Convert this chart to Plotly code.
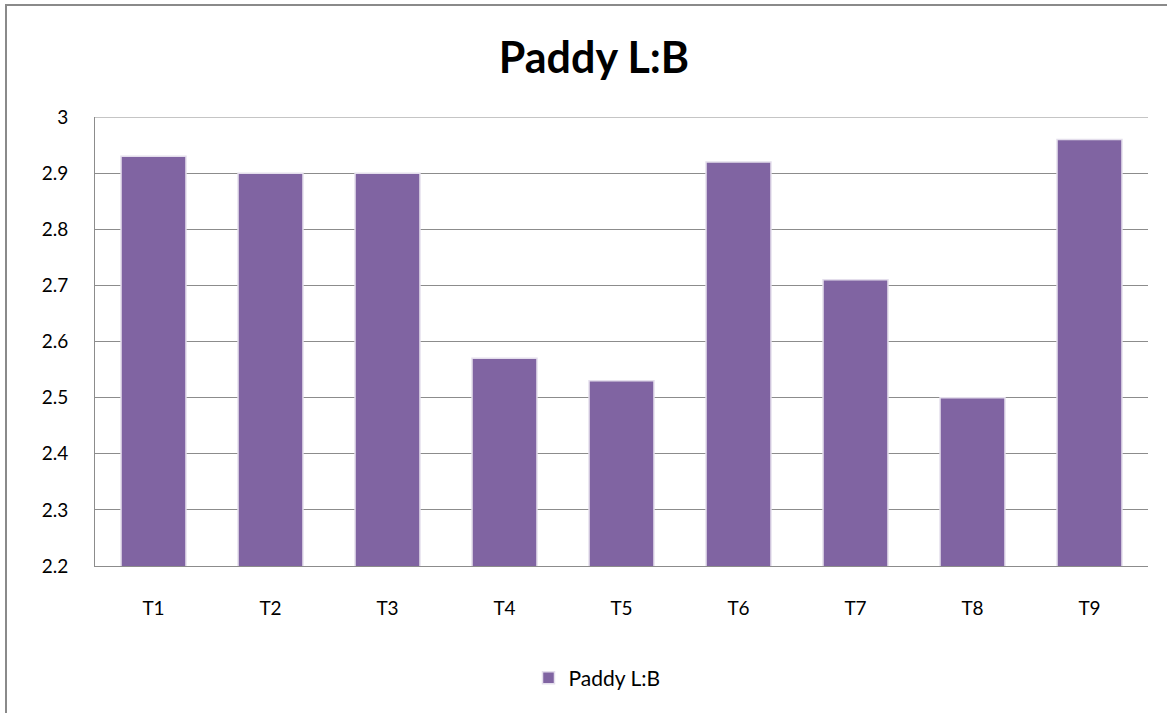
import plotly.graph_objects as go

categories = ["T1", "T2", "T3", "T4", "T5", "T6", "T7", "T8", "T9"]
values = [2.93, 2.90, 2.90, 2.57, 2.53, 2.92, 2.71, 2.50, 2.96]
y_ticks = [2.2, 2.3, 2.4, 2.5, 2.6, 2.7, 2.8, 2.9, 3.0]
y_tick_text = ["2.2", "2.3", "2.4", "2.5", "2.6", "2.7", "2.8", "2.9", "3"]
series_name = "Paddy L:B"

W, H = 1167, 713
L, R, T, B = 95, 1148, 117, 566

def px_x(sx):
    return (sx - L) / (R - L)

def px_y(sy):
    return (B - sy) / (B - T)

fig = go.Figure()
fig.add_trace(go.Bar(
    x=categories, y=values, name=series_name,
    marker=dict(color="#8064A2", line=dict(color="#E4DEEC", width=1.5)),
    showlegend=True,
))

fig.update_layout(
    width=W, height=H,
    margin=dict(l=L, r=W - R, t=T, b=H - B, autoexpand=False),
    paper_bgcolor="white", plot_bgcolor="white",
    font=dict(family="Lato", size=19, color="#000000"),
    title=dict(text="<b>Paddy L:B</b>", x=594 / W, xanchor="center",
               y=1 - 58 / H, yanchor="middle", yref="container",
               font=dict(family="Lato", size=43, color="#000000")),
    bargap=0.445,
    showlegend=True,
    legend=dict(orientation="h", x=px_x(597), xanchor="center",
                y=px_y(678), yanchor="middle", font=dict(size=21),
                bgcolor="rgba(0,0,0,0)"),
    shapes=[
        dict(type="rect", xref="paper", yref="paper",
             x0=px_x(6), y0=px_y(5), x1=px_x(1220), y1=px_y(780),
             line=dict(color="#8A8A8A", width=2), layer="below"),
        # top gridline at the axis maximum
        dict(type="line", xref="paper", yref="y",
             x0=0, x1=1, y0=y_ticks[-1], y1=y_ticks[-1],
             line=dict(color="#8C8C8C", width=1), layer="below"),
    ],
)

fig.update_yaxes(
    range=[2.2, 3.0], tickvals=y_ticks, ticktext=y_tick_text,
    showgrid=True, gridcolor="#8C8C8C", gridwidth=1,
    showline=True, linecolor="#8C8C8C", linewidth=1,
    ticks="", ticklabelstandoff=22, zeroline=False,
)
fig.update_xaxes(
    showgrid=False, showline=True, linecolor="#8C8C8C", linewidth=1,
    ticks="", ticklabelstandoff=25,
)

fig.write_html(
    "out.html",
    config={"displayModeBar": False},
    post_script="document.body.style.margin='0';document.body.style.overflow='hidden';",
)
